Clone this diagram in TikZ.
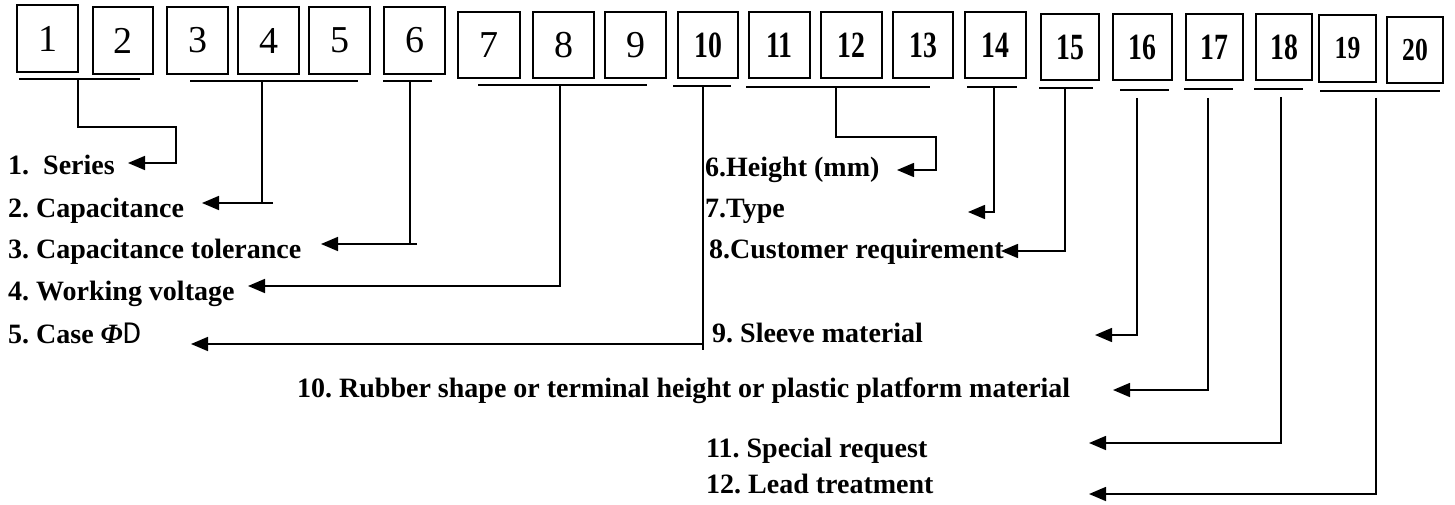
\documentclass[tikz,border=0pt]{standalone}
\usepackage{fontspec}
\setmainfont{Liberation Serif}
\newfontfamily\cjkfont{Noto Sans CJK SC}
\usetikzlibrary{arrows.meta}
\frenchspacing
\newcommand\condense[1]{\scalebox{0.75}[1]{#1}}
\newcommand\condb[1]{\scalebox{0.8}[1]{#1}}
\begin{document}
\begin{tikzpicture}[x=1pt,y=-1pt,
  box/.style={draw,line width=1.6pt,inner sep=0pt,anchor=center},
  dA/.style={font=\fontsize{38}{38}\selectfont},
  dB/.style={font=\bfseries\fontsize{37}{37}\selectfont},
  dC/.style={font=\bfseries\fontsize{32}{32}\selectfont},
  lab/.style={anchor=base west,inner sep=0pt,font=\bfseries\fontsize{28}{30}\selectfont},
  uline/.style={line width=1.6pt},
  conn/.style={line width=1.6pt},
  arr/.style={line width=1.6pt,-{Triangle[length=17pt,width=14pt]}}]
\useasboundingbox (0,0) rectangle (1455,505);
% boxes
\node[box,dA,minimum width=61,minimum height=67] (b1) at (47.5,38.5) {1};
\node[box,dA,minimum width=60,minimum height=67] (b2) at (123,40.5) {2};
\node[box,dA,minimum width=61,minimum height=67] (b3) at (197.5,40.5) {3};
\node[box,dA,minimum width=61,minimum height=67] (b4) at (268.5,40.5) {4};
\node[box,dA,minimum width=61,minimum height=67] (b5) at (339.5,40.5) {5};
\node[box,dA,minimum width=61,minimum height=67] (b6) at (414.5,40.5) {6};
\node[box,dA,minimum width=62,minimum height=66] (b7) at (489,45) {7};
\node[box,dA,minimum width=61,minimum height=66] (b8) at (563.5,45) {8};
\node[box,dA,minimum width=61,minimum height=66] (b9) at (635.5,45) {9};
\node[box,dB,minimum width=60,minimum height=66] (b10) at (708,45) {\condense{10}};
\node[box,dB,minimum width=61,minimum height=66] (b11) at (779.5,45) {\condense{11}};
\node[box,dB,minimum width=61,minimum height=66] (b12) at (851.5,45) {\condense{12}};
\node[box,dB,minimum width=60,minimum height=66] (b13) at (923,45) {\condense{13}};
\node[box,dB,minimum width=61,minimum height=66] (b14) at (995.5,45) {\condense{14}};
\node[box,dB,minimum width=58,minimum height=66] (b15) at (1070,47) {\condense{15}};
\node[box,dB,minimum width=59,minimum height=66] (b16) at (1142.5,47) {\condense{16}};
\node[box,dB,minimum width=57,minimum height=66] (b17) at (1214.5,47) {\raisebox{-5pt}{\condense{17}}};
\node[box,dB,minimum width=56,minimum height=66] (b18) at (1284,47) {\condense{18}};
\node[box,dC,minimum width=57,minimum height=67] (b19) at (1347.5,48.5) {\condb{19}};
\node[box,dC,minimum width=56,minimum height=66] (b20) at (1415,50) {\condb{20}};
% underlines
\draw[uline] (19,79) -- (140,79);
\draw[uline] (190,81) -- (358,81);
\draw[uline] (383,81) -- (432,81);
\draw[uline] (478,85) -- (647,85);
\draw[uline] (673,86) -- (731,86);
\draw[uline] (746,87) -- (930,87);
\draw[uline] (967,87) -- (1017,87);
\draw[uline] (1039,88) -- (1093,88);
\draw[uline] (1120,90) -- (1169,90);
\draw[uline] (1184,89) -- (1233,89);
\draw[uline] (1254,89) -- (1303,89);
\draw[uline] (1320,91) -- (1440,91);
% labels
\node[lab] (l1) at (8,175) {1.\ \ Series};
\node[lab] (l2) at (8,217) {2. Capacitance};
\node[lab] (l3) at (8,258) {3. Capacitance tolerance};
\node[lab] (l4) at (8,300) {4. Working voltage};
\node[lab] (l5) at (8,343) {5. Case {\itshape Φ}{\cjkfont\mdseries D}};
\node[lab] (l6) at (705,177) {6.Height (mm)};
\node[lab] (l7) at (705,217) {7.Type};
\node[lab] (l8) at (709,258) {8.Customer requirement};
\node[lab] (l9) at (712,342) {9. Sleeve material};
\node[lab] (l10) at (297,397) {10. Rubber shape or terminal height or plastic platform material};
\node[lab] (l11) at (706,457) {11. Special request};
\node[lab] (l12) at (706,493) {12. Lead treatment};
% stems and arrow tips
\coordinate (s1) at (78,79);   \coordinate (k1a) at (78,127); \coordinate (k1b) at (176,127); \coordinate (k1c) at (176,163); \coordinate (t1) at (128,163);
\coordinate (s2) at (262,81);  \coordinate (k2) at (262,203);  \coordinate (e2) at (273,203); \coordinate (t2) at (202,203);
\coordinate (s3) at (410,81);  \coordinate (k3) at (410,244);  \coordinate (e3) at (417,244); \coordinate (t3) at (321,244);
\coordinate (s4) at (560,85);  \coordinate (k4) at (560,286);  \coordinate (t4) at (248,286);
\coordinate (s5) at (703,86);  \coordinate (k5) at (703,350);  \coordinate (e5) at (703,344); \coordinate (t5) at (191,344);
\coordinate (s6) at (836,87);  \coordinate (k6a) at (836,137); \coordinate (k6b) at (936,137); \coordinate (k6c) at (936,170); \coordinate (t6) at (897,170);
\coordinate (s7) at (994,87);  \coordinate (k7) at (994,212);  \coordinate (t7) at (968,212);
\coordinate (s8) at (1065,88); \coordinate (k8) at (1065,251); \coordinate (t8) at (1001,251);
\coordinate (s9) at (1137,98); \coordinate (k9) at (1137,335); \coordinate (t9) at (1095,335);
\coordinate (s10) at (1208,98); \coordinate (k10) at (1208,390); \coordinate (t10) at (1113,390);
\coordinate (s11) at (1281,97); \coordinate (k11) at (1281,443); \coordinate (t11) at (1089,443);
\coordinate (s12) at (1376,98); \coordinate (k12) at (1376,494); \coordinate (t12) at (1089,494);
% connectors
\draw[arr] (s1) -- (k1a) -- (k1b) -- (k1c) -- (t1);
\draw[conn] (s2) -- (k2); \draw[arr] (e2) -- (t2);
\draw[conn] (s3) -- (k3); \draw[arr] (e3) -- (t3);
\draw[arr] (s4) -- (k4) -- (t4);
\draw[conn] (s5) -- (k5); \draw[arr] (e5) -- (t5);
\draw[arr] (s6) -- (k6a) -- (k6b) -- (k6c) -- (t6);
\draw[arr] (s7) -- (k7) -- (t7);
\draw[arr] (s8) -- (k8) -- (t8);
\draw[arr] (s9) -- (k9) -- (t9);
\draw[arr] (s10) -- (k10) -- (t10);
\draw[arr] (s11) -- (k11) -- (t11);
\draw[arr] (s12) -- (k12) -- (t12);
\end{tikzpicture}
\end{document}
